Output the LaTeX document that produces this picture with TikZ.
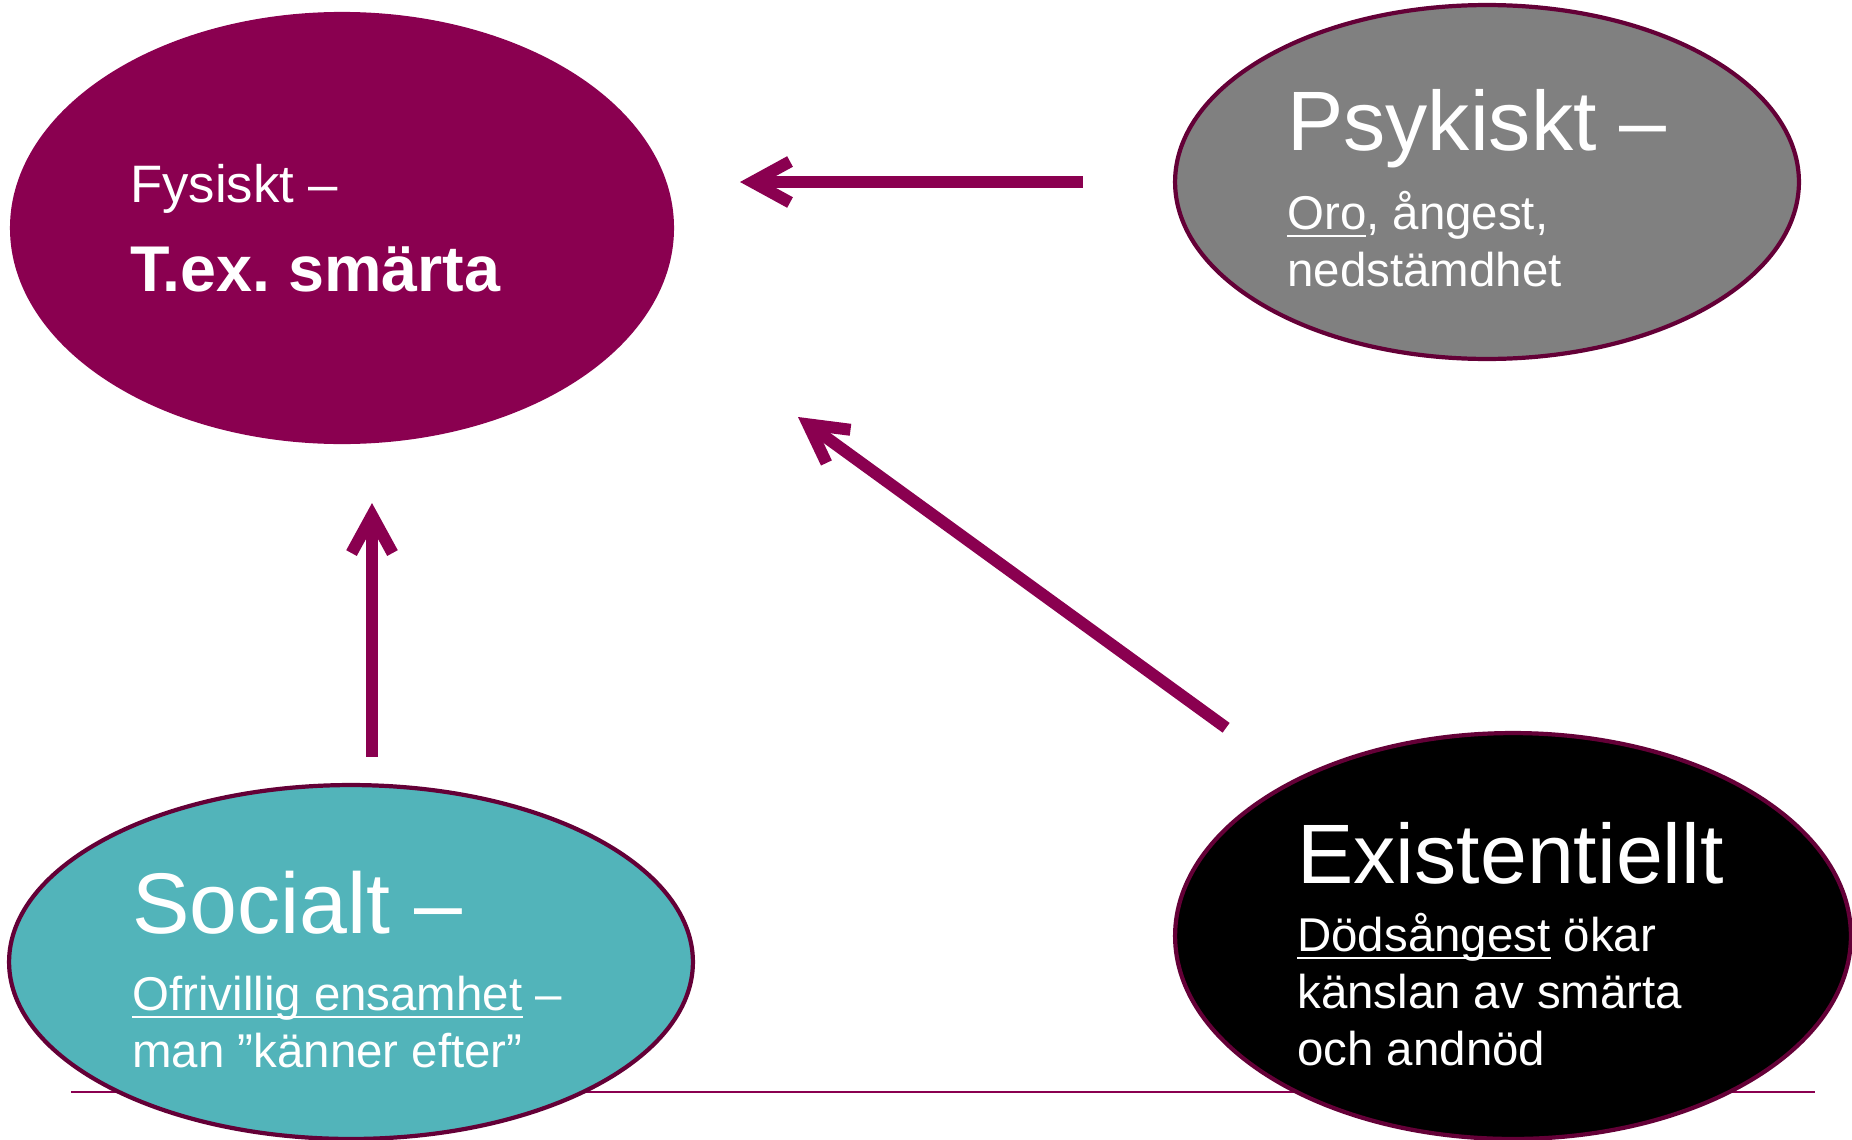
\documentclass[tikz,border=0pt]{standalone}
\usepackage{fontspec}
\setmainfont{Liberation Sans}
\usetikzlibrary{shapes.geometric,arrows.meta}

\definecolor{plum}{RGB}{138,0,80}
\definecolor{rim}{RGB}{100,0,55}
\definecolor{stone}{RGB}{128,128,128}
\definecolor{lagoon}{RGB}{82,180,186}

\frenchspacing
\newcommand{\undl}[1]{\leavevmode\setbox0\hbox{#1}\rlap{\rule[-4.5pt]{\wd0}{1.3pt}}\box0\relax}

\tikzset{
  blob/.style={ellipse, inner sep=0pt, draw=rim, line width=2.4pt},
  head/.style={anchor=base west, inner sep=0pt, text=white},
  body/.style={anchor=base west, inner sep=0pt, text=white, align=left,
    font=\fontsize{27}{32.4}\selectfont},
  arr/.style={draw=plum, line width=0.24cm, -{Straight Barb[length=0.75cm,width=0.82cm]}}
}

\begin{document}
\begin{tikzpicture}[x=0.02cm, y=-0.02cm]
\useasboundingbox (0,0) rectangle (1852,1139);

% Linje
\draw[plum, line width=1.2pt] (71,1092) -- (1815,1092);

% Ellipser
\node[blob, draw=plum, fill=plum, minimum width=13.2cm, minimum height=8.56cm] (fys) at (342,228) {};
\node[blob, fill=stone, minimum width=12.48cm, minimum height=7.08cm] (psy) at (1487,182) {};
\node[blob, fill=lagoon, minimum width=13.68cm, minimum height=7.08cm] (soc) at (351,962) {};
\node[blob, fill=black, minimum width=13.52cm, minimum height=8.12cm] (exi) at (1513,936) {};

% Texter (body: ankare vid sista radens baslinje)
\node[head, font=\fontsize{30}{36}\selectfont] (fysA) at (130,202) {Fysiskt –};
\node[head, font=\fontsize{36.8}{44}\selectfont\bfseries] (fysB) at (130,291) {T.ex. smärta};

\node[head, font=\fontsize{48}{58}\selectfont] (psyA) at (1287,150) {Psykiskt –};
\node[body] (psyB) at (1287,286) {\undl{Oro}, ångest,\\nedstämdhet};

\node[head, font=\fontsize{49}{58}\selectfont] (socA) at (132,933) {Socialt –};
\node[body] (socB) at (132,1067) {\undl{Ofrivillig ensamhet} –\\man ”känner efter”};

\node[head, font=\fontsize{48}{58}\selectfont] (exiA) at (1297,883) {Existentiellt};
\node[body] (exiB) at (1297,1065) {\undl{Dödsångest} ökar\\känslan av smärta\\och andnöd};

% Pilar
\draw[arr, shorten <=1.8cm, shorten >=1.32cm] (psy.west) -- (psy.west -| fys.east);
\draw[arr, shorten <=0.52cm, shorten >=1.18cm] ([xshift=0.42cm]soc.north) -- ([xshift=0.42cm]soc.north |- fys.south);
\coordinate (diagtip) at (798,417);
\draw[arr, shorten <=1.72cm] (exi) -- (diagtip);

\end{tikzpicture}
\end{document}
